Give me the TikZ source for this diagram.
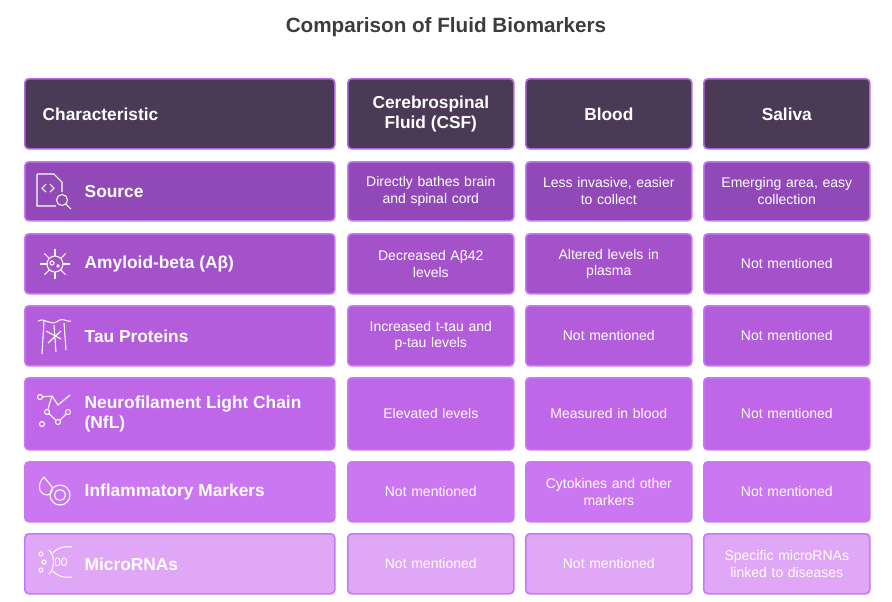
\documentclass[tikz,border=0pt]{standalone}
\usepackage{fontspec}
\setmainfont{Liberation Sans}
\usetikzlibrary{positioning,calc}
\definecolor{headfill}{HTML}{4B3A56}
\definecolor{headline}{HTML}{B366E0}
\definecolor{rowA}{HTML}{9149B8}
\definecolor{rowB}{HTML}{A352CA}
\definecolor{rowC}{HTML}{B35CDC}
\definecolor{rowD}{HTML}{C066E8}
\definecolor{rowE}{HTML}{CB77F2}
\definecolor{rowF}{HTML}{DFA7F6}
\definecolor{edgeA}{HTML}{C47BF2}
\definecolor{titlegray}{HTML}{3C3C3C}
\tikzset{
  cell/.style={draw=edgeA,fill=#1,rounded corners=3pt,line width=1.2pt,anchor=north west,inner sep=0pt},
  head/.style={draw=headline,fill=headfill,rounded corners=3pt,line width=1.2pt,anchor=north west,inner sep=0pt},
  txt/.style={text=white,font=\fontsize{10.5}{12.5}\selectfont,align=center,text width=115pt},
  lbl/.style={text=white,font=\bfseries\fontsize{13}{15}\selectfont,anchor=west,align=left},
  icon/.style={draw=white,line width=0.8pt}
}
\begin{document}
\begin{tikzpicture}[x=0.75pt,y=-0.75pt]
\useasboundingbox (0,0) rectangle (892,601);
\node[font=\bfseries\fontsize{15.5}{18}\selectfont,text=titlegray] (title) at (446,27) {Comparison of Fluid Biomarkers};
% header row
\node[head,minimum width=232.5pt,minimum height=52.5pt] (h1) at (24,78) {};
\node[head,minimum width=124.5pt,minimum height=52.5pt] (h2) at (347,78) {};
\node[head,minimum width=124.5pt,minimum height=52.5pt] (h3) at (525,78) {};
\node[head,minimum width=124.5pt,minimum height=52.5pt] (h4) at (703,78) {};
\node[lbl] at ($(h1.west)+(14,0)$) {Characteristic};
\node[lbl,anchor=center,align=center] at (h2) {Cerebrospinal\\Fluid (CSF)};
\node[lbl,anchor=center] at (h3) {Blood};
\node[lbl,anchor=center] at (h4) {Saliva};
% body rows: top, height, colour, label, CSF, blood, saliva
\foreach \y/\h/\c/\name/\csf/\blood/\saliva/\i in {
  161/59/rowA/Source/{Directly bathes brain\\and spinal cord}/{Less invasive, easier\\to collect}/{Emerging area, easy\\collection}/1,
  233/60/rowB/{Amyloid-beta (Aβ)}/{Decreased Aβ42\\levels}/{Altered levels in\\plasma}/{Not mentioned}/2,
  305/60/rowC/{Tau Proteins}/{Increased t-tau and\\p-tau levels}/{Not mentioned}/{Not mentioned}/3,
  377/72/rowD/{Neurofilament Light Chain\\(NfL)}/{Elevated levels}/{Measured in blood}/{Not mentioned}/4,
  461/60/rowE/{Inflammatory Markers}/{Not mentioned}/{Cytokines and other\\markers}/{Not mentioned}/5,
  533/60/rowF/{MicroRNAs}/{Not mentioned}/{Not mentioned}/{Specific microRNAs\\linked to diseases}/6}{
  \node[cell=\c,minimum width=232.5pt,minimum height=\h*0.75pt] (r\i a) at (24,\y) {};
  \node[cell=\c,minimum width=124.5pt,minimum height=\h*0.75pt] (r\i b) at (347,\y) {};
  \node[cell=\c,minimum width=124.5pt,minimum height=\h*0.75pt] (r\i c) at (525,\y) {};
  \node[cell=\c,minimum width=124.5pt,minimum height=\h*0.75pt] (r\i d) at (703,\y) {};
  \node[lbl] at ($(r\i a.west)+(56,0)$) {\name};
  \node[txt] at (r\i b) {\csf};
  \node[txt] at (r\i c) {\blood};
  \node[txt] at (r\i d) {\saliva};
}
% icons
\draw[icon] (37,174) -- (37,206) -- (56,206) (37,174) -- (54,174) -- (62,182) -- (62,192);
\draw[icon] (46,184) -- (42,188) -- (46,192) (50,184) -- (54,188) -- (50,192);
\draw[icon] (62,200) circle (5.5) (66,204) -- (71,209);
\draw[icon] (55,264) circle (8) (52,263) circle (2) (58,266) circle (1.2);
\foreach \a in {0,45,...,315} \draw[icon] ($(55,264)+(\a:8)$) -- ($(55,264)+(\a:15)$);
\draw[icon] (38,321) .. controls (46,317) and (50,327) .. (58,321) .. controls (64,317) and (68,323) .. (71,321);
\draw[icon] (44,321) -- (42,354) (54,325) -- (56,352) (64,323) -- (66,350) (46,331) -- (61,339) (61,331) -- (48,343);
\draw[icon] (40,397) -- (52,396) -- (58,405) -- (70,395) (52,396) -- (47,412) -- (58,422) -- (68,412);
\foreach \p in {(40,397),(47,412),(58,422),(68,412),(42,424)} \draw[icon,fill=rowD] \p circle (2.5);
\draw[icon] (44,477) .. controls (37,484) and (38,494) .. (47,495) .. controls (51,495) and (53,491) .. (52,487) .. controls (50,484) and (47,481) .. cycle;
\draw[icon] (60,495) circle (10) (60,495) circle (5.5);
\draw[icon] (41,554) circle (2) (44,562) circle (2) (41,570) circle (2) (61,562) node[text=white,font=\fontsize{9}{9}\selectfont]{00};
\draw[icon] (49,550) .. controls (55,555) and (55,569) .. (49,574) (53,553) .. controls (58,547) and (65,546) .. (72,547) (53,571) .. controls (58,577) and (65,578) .. (72,577);
\end{tikzpicture}
\end{document}
